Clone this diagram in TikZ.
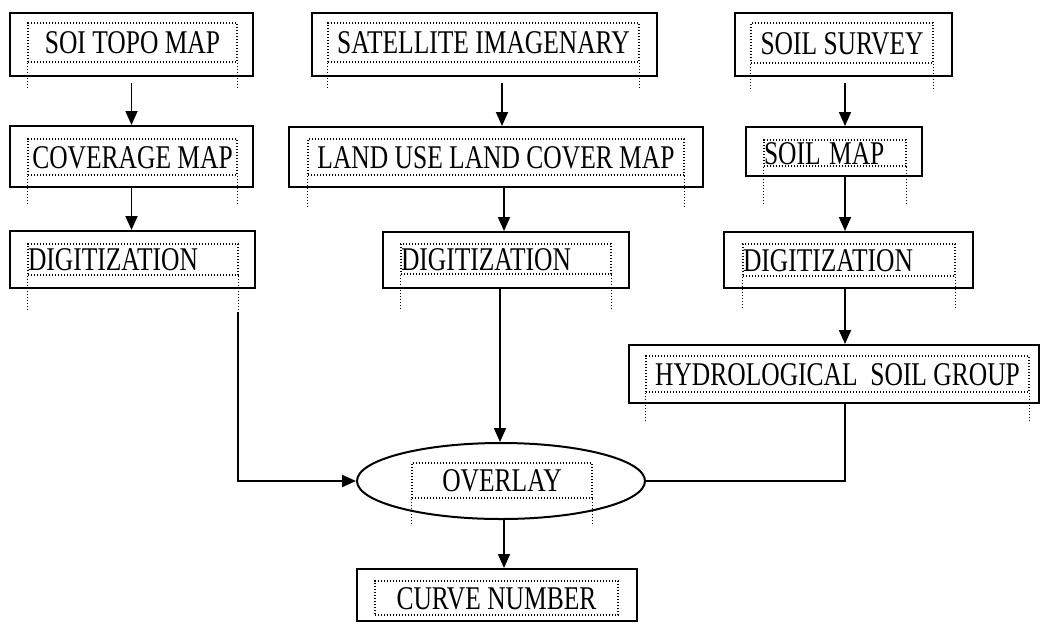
\documentclass[tikz,border=0pt]{standalone}
\usepackage{fontspec}
\setmainfont{Liberation Serif}
\usetikzlibrary{arrows.meta,shapes.geometric}
\newcommand{\tall}[1]{\scalebox{1}[1.3]{#1}}
\tikzset{
  block/.style={draw, line width=2pt, inner sep=0pt},
  tbox/.style={draw, line width=1.2pt, dash pattern=on 1.2pt off 1.8pt, inner sep=0pt,
    text height=22pt, text depth=0pt, font=\fontsize{25.5}{28}\selectfont},
  leg/.style={line width=1.2pt, dash pattern=on 1.2pt off 1.8pt},
  arrow/.style={line width=1.8pt, -{Triangle[width=12pt,length=14pt]}},
  link/.style={line width=1.8pt},
}
\begin{document}
\begin{tikzpicture}[x=1pt,y=-1pt]
        \useasboundingbox (0,0) rectangle (1040,624);
        % sources
        \node[block, minimum width=243pt, minimum height=63pt] (topo) at (131.5,44.5) {};
        \node[tbox, minimum width=209pt, minimum height=39pt] (topo-t) at (132.5,42.5) {\tall{SOI TOPO MAP}};
        \node[block, minimum width=345pt, minimum height=63pt] (sat) at (484.5,44.5) {};
        \node[tbox, minimum width=311pt, minimum height=39pt] (sat-t) at (483.5,42.5) {\tall{SATELLITE IMAGENARY}};
        \node[block, minimum width=217pt, minimum height=63pt] (survey) at (843.5,44.5) {};
        \node[tbox, minimum width=182pt, minimum height=40pt] (survey-t) at (842,43) {\tall{SOIL SURVEY}};
        % maps
        \node[block, minimum width=243pt, minimum height=61pt] (cover) at (131.5,156.5) {};
        \node[tbox, minimum width=209pt, minimum height=36pt] (cover-t) at (132.5,157) {\tall{COVERAGE MAP}};
        \node[block, minimum width=414pt, minimum height=60pt] (lulc) at (496,157) {};
        \node[tbox, minimum width=376pt, minimum height=36pt] (lulc-t) at (496,157) {\tall{LAND USE LAND COVER MAP}};
        \node[block, minimum width=176pt, minimum height=49pt] (soilmap) at (834,151.5) {};
        \node[tbox, text width=142pt, align=left, minimum height=26pt] (soilmap-t) at (835,153) {\tall{SOIL MAP}};
        % digitization
        \node[block, minimum width=245pt, minimum height=57pt] (digit1) at (132.5,259.5) {};
        \node[tbox, text width=210pt, align=left, minimum height=31pt] (digit1-t) at (133,259.5) {\tall{DIGITIZATION}};
        \node[block, minimum width=246pt, minimum height=56pt] (digit2) at (506,260) {};
        \node[tbox, text width=210pt, align=left, minimum height=30pt] (digit2-t) at (506,259) {\tall{DIGITIZATION}};
        \node[block, minimum width=249pt, minimum height=56pt] (digit3) at (848.5,260) {};
        \node[tbox, text width=212pt, align=left, minimum height=32pt] (digit3-t) at (849,260) {\tall{DIGITIZATION}};
        \node[block, minimum width=410pt, minimum height=58pt] (hsg) at (834,374) {};
        \node[tbox, minimum width=383pt, minimum height=36pt] (hsg-t) at (837.5,374) {\tall{HYDROLOGICAL\ \ SOIL GROUP}};
        % overlay and result
        \node[block, ellipse, minimum width=288pt, minimum height=76pt] (overlay) at (501,481) {};
        \node[tbox, minimum width=180pt, minimum height=35pt] (overlay-t) at (502,480.5) {\tall{OVERLAY}};
        \node[block, minimum width=280pt, minimum height=52pt] (curve) at (497,595) {};
        \node[tbox, minimum width=243pt, minimum height=34pt] (curve-t) at (496.5,598) {\tall{CURVE NUMBER}};
        % frame legs
        \draw[leg] (topo-t.south west) -- ++(0,26) (topo-t.south east) -- ++(0,26);
        \draw[leg] (sat-t.south west) -- ++(0,26) (sat-t.south east) -- ++(0,26);
        \draw[leg] (survey-t.south west) -- ++(0,27) (survey-t.south east) -- ++(0,27);
        \draw[leg] (cover-t.south west) -- ++(0,29) (cover-t.south east) -- ++(0,29);
        \draw[leg] (lulc-t.south west) -- ++(0,31) (lulc-t.south east) -- ++(0,31);
        \draw[leg] (soilmap-t.south west) -- ++(0,38) (soilmap-t.south east) -- ++(0,38);
        \draw[leg] (digit1-t.south west) -- ++(0,35) (digit1-t.south east) -- ++(0,35);
        \draw[leg] (digit2-t.south west) -- ++(0,36) (digit2-t.south east) -- ++(0,36);
        \draw[leg] (digit3-t.south west) -- ++(0,32) (digit3-t.south east) -- ++(0,32);
        \draw[leg] (hsg-t.south west) -- ++(0,29) (hsg-t.south east) -- ++(0,29);
        \draw[leg] (overlay-t.south west) -- ++(0,27) (overlay-t.south east) -- ++(0,27);
        % connectors
        \draw[arrow, shorten <=6pt] (topo) -- (cover);
        \draw[arrow, shorten <=6pt] (sat.south -| 502,0) -- (lulc.north -| 502,0);
        \draw[arrow, shorten <=6pt] (survey.south -| 845,0) -- (soilmap.north -| 845,0);
        \draw[arrow] (cover.south) -- (cover.south |- digit1.north);
        \draw[arrow] (lulc.south -| 504,0) -- (digit2.north -| 504,0);
        \draw[arrow] (soilmap.south -| 845,0) -- (digit3.north -| 845,0);
        \draw[arrow] (digit3.south -| 845,0) -- (hsg.north -| 845,0);
        \draw[arrow] (digit2.south -| 500,0) -- (overlay.north -| 500,0);
        \draw[arrow, shorten <=23pt] (digit1.south -| 238,0) |- (overlay.west);
        \draw[link] (hsg.south -| 845,0) |- (overlay.east);
        \draw[arrow] (overlay.south -| 504,0) -- (curve.north -| 504,0);
\end{tikzpicture}
\end{document}
